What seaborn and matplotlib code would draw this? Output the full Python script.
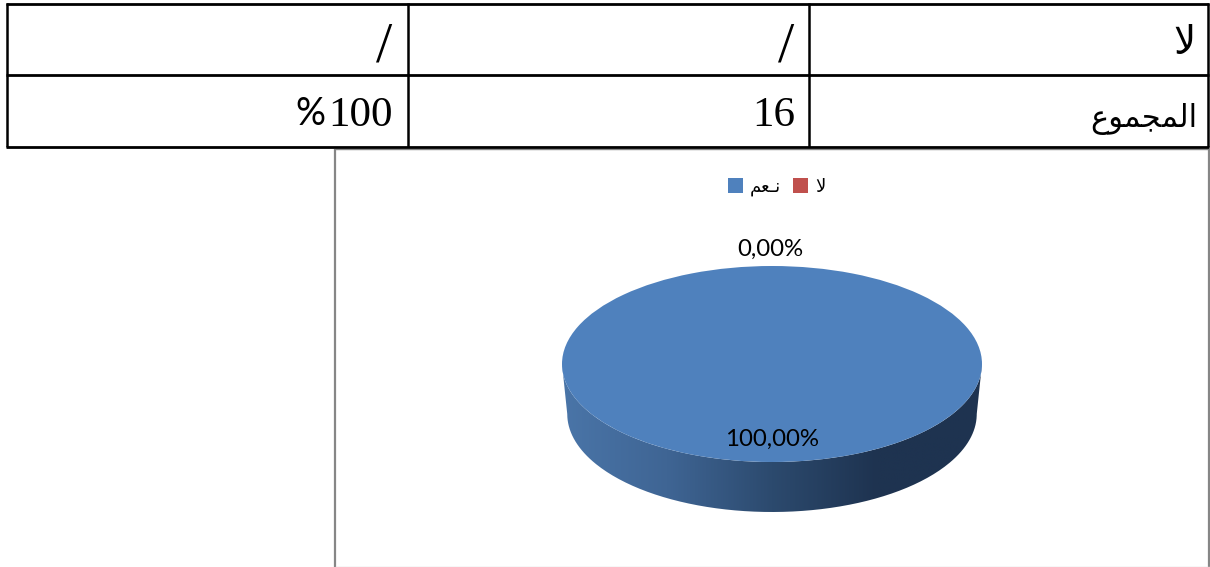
import numpy as np
import matplotlib
matplotlib.use("Agg")
import matplotlib.pyplot as plt
from matplotlib.colors import LinearSegmentedColormap
from matplotlib.path import Path
from matplotlib.patches import PathPatch
import seaborn as sns

# Arabic strings in visual order using presentation forms, since matplotlib has no shaping
categories = ["\uFEE2\uFECC\u0640\uFEE7", "\uFEFB"]
values = [100.0, 0.0]
value_labels = ["100,00%", "0,00%"]
table_row1 = ["/", "/", "\uFEFB"]
table_total_label = "\uFEC9\uFEEE\uFEE4\uFEA0\uFEE4\uFEDF\uFE8D"
table_total_count = "16"
table_total_pct = "100"
percent_sign = "%"

sns.set_theme(style="white")
plt.rcParams["font.family"] = ["Lato", "DejaVu Sans"]
colors = ["#4F81BD", "#C0504D"]
side_colors = ["#4A75A8", "#3F6594", "#2C4A6E", "#1E3350", "#1E3350"]

W, H = 1210, 567
fig = plt.figure(figsize=(W / 100, H / 100), dpi=100, facecolor="white")

# page layer in pixel units: table and chart frame
page = fig.add_axes([0, 0, 1, 1], zorder=0)
page.set_xlim(0, W)
page.set_ylim(H, 0)
page.axis("off")
frame = "#868686"
page.plot([335, 335], [149, H], color=frame, lw=1.6, solid_capstyle="butt")
page.plot([1209, 1209], [149, H], color=frame, lw=1.6, solid_capstyle="butt")
page.plot([335, 1210], [149, 149], color=frame, lw=1.0, solid_capstyle="butt")
page.plot([335, 1210], [566.5, 566.5], color="#D9D9D9", lw=1.0, solid_capstyle="butt")
for y in (3.5, 75, 146.5):
    page.plot([6, 1209], [y, y], color="black", lw=2.0, solid_capstyle="butt")
for x in (7, 408, 809, 1208):
    page.plot([x, x], [3, 147], color="black", lw=1.8, solid_capstyle="butt")

serif = "Liberation Serif"
for xr, txt in zip((392, 794), table_row1[:2]):
    page.text(xr, 47, txt, ha="right", va="center", family=serif, fontsize=42, color="black")
page.text(1196, 54, table_row1[2], ha="right", va="baseline", family="DejaVu Sans", fontsize=28, color="black")
page.text(1197, 127, table_total_label, ha="right", va="baseline", family="DejaVu Sans", fontsize=22, color="black")
page.text(795, 126, table_total_count, ha="right", va="baseline", family=serif, fontsize=31, color="black")
page.text(393, 126, table_total_pct, ha="right", va="baseline", family=serif, fontsize=31, color="black")
page.text(325, 125, percent_sign, ha="right", va="baseline", family="Lato", fontsize=27, color="black")

# pie layer: top face of the disc, with room below it for the side wall
left, right, top, bottom, wall_px = 562, 982, 266, 462, 50
ax = fig.add_axes([left / W, 1 - (bottom + wall_px) / H, (right - left) / W, (bottom + wall_px - top) / H], zorder=1)
wedges, _ = ax.pie(values, colors=colors, startangle=90, radius=1,
                   wedgeprops=dict(linewidth=0), frame=False)
for w in wedges:
    w.set_zorder(3)
depth = wall_px / ((bottom - top) / 2)
ax.set_aspect("auto")
ax.axis("off")

# side wall of the disc, shaded horizontally, slightly narrower at the foot
foot = 0.975
t = np.linspace(np.pi, 2 * np.pi, 200)
xs = np.concatenate([foot * np.cos(t), np.cos(t[::-1])])
ys = np.concatenate([np.sin(t) - depth, np.sin(t[::-1])])
wall = PathPatch(Path(np.column_stack([xs, ys])), transform=ax.transData, fc="none", ec="none")
ax.add_patch(wall)
cmap = LinearSegmentedColormap.from_list("side", side_colors)
im = ax.imshow(np.linspace(0, 1, 256)[None, :], cmap=cmap, aspect="auto",
               extent=(-1, 1, -1 - depth, 0), zorder=1)
im.set_clip_path(wall)
ax.set_xlim(-1, 1)
ax.set_ylim(-1 - depth, 1)

label_pos = [(0.0, -0.765), (-0.01, 1.17)]
for txt, (lx, ly) in zip(value_labels, label_pos):
    ax.text(lx, ly, txt, ha="center", va="center", fontsize=17.3, color="black", zorder=5, clip_on=False)

fig.legend(wedges, categories, loc="center", bbox_to_anchor=(776.5 / W, 1 - 187 / H), ncol=2,
           frameon=False, handlelength=0.83, handleheight=0.83, borderpad=0, borderaxespad=0,
           columnspacing=0.66, handletextpad=0.39, labelcolor="black",
           prop=dict(family="DejaVu Sans", size=13))

fig.savefig("out.png", dpi=100, facecolor="white")
